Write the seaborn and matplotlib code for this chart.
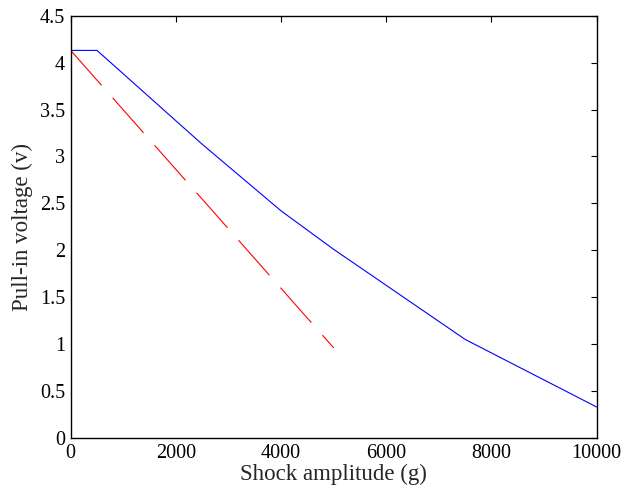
import numpy as np
import pandas as pd
import matplotlib
matplotlib.use("Agg")
import matplotlib.pyplot as plt
import seaborn as sb

# blue solid curve
shock_a = [0, 500, 2500, 4000, 5000, 7500, 10000]
volt_a = [4.13, 4.13, 3.13, 2.42, 2.01, 1.05, 0.33]

# red dashed line
shock_b = [0, 5000]
volt_b = [4.13, 0.96]

sb.set_theme(style="white")
plt.rcParams['font.family'] = ['Liberation Serif', 'DejaVu Serif']

fig = plt.figure(figsize=(6.25, 4.93), dpi=100)
ax = fig.add_axes([0.1131, 0.1116, 0.8416, 0.8566])

sb.lineplot(x=shock_a, y=volt_a, color='#0000ff', linewidth=0.8, ax=ax, errorbar=None, sort=False)
sb.lineplot(x=shock_b, y=volt_b, color='#ff0000', linewidth=0.8, ax=ax, errorbar=None,
            linestyle=(0, (42, 15)), sort=False)

ax.set_xlim(0, 10000)
ax.set_ylim(0, 4.5)
ax.set_xticks(np.arange(0, 10001, 2000))
ax.set_yticks(np.arange(0, 4.51, 0.5))
ax.set_yticklabels(['0', '0.5', '1', '1.5', '2', '2.5', '3', '3.5', '4', '4.5'])
ax.tick_params(axis='both', which='both', direction='in', length=4.5, width=0.8,
               top=True, right=True, labelsize=14.5, colors='black', pad=4)
for s in ax.spines.values():
    s.set_color('black')
    s.set_linewidth(1.0)
ax.set_xlabel("Shock amplitude (g)", fontsize=16.5, labelpad=1)
ax.set_ylabel("Pull-in voltage (v)", fontsize=16.5, labelpad=5)

fig.savefig("out.png", dpi=100)
